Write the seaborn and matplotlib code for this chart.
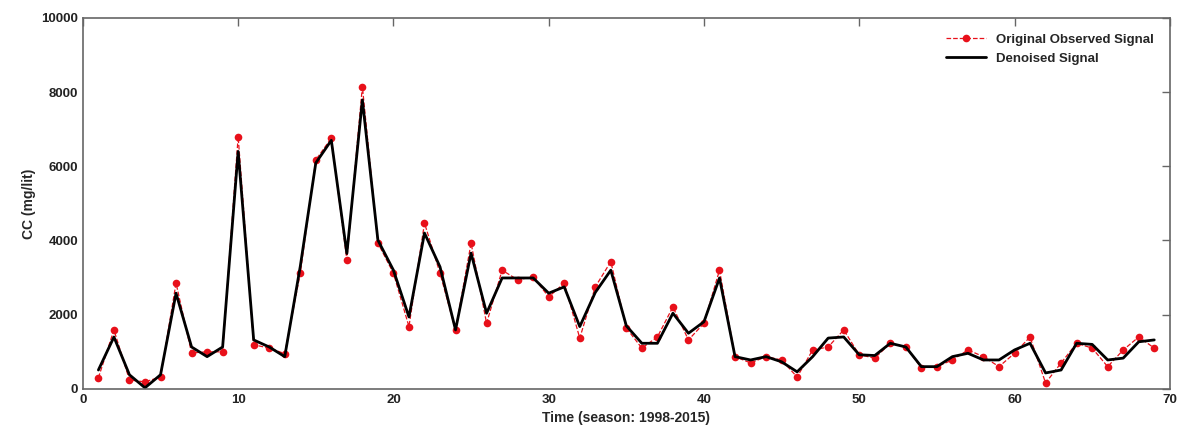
import numpy as np
import pandas as pd
import matplotlib
matplotlib.use("Agg")
import matplotlib.pyplot as plt
import seaborn as sns

# season index 1..69
season = list(range(1, 70))

observed = [300, 1590, 240, 190, 320, 2850, 970, 1000, 1000, 6800,
            1190, 1100, 950, 3120, 6170, 6760, 3480, 8150, 3930, 3120,
            1680, 4470, 3120, 1590, 3930, 1770, 3200, 2940, 3020, 2480,
            2850, 1370, 2750, 3430, 1640, 1100, 1400, 2210, 1320, 1770,
            3200, 870, 700, 870, 780, 320, 1050, 1130, 1590, 920,
            830, 1230, 1130, 570, 600, 780, 1050, 870, 600, 960,
            1400, 160, 700, 1230, 1100, 600, 1050, 1400, 1100]

denoised = [510, 1400, 380, 30, 380, 2580, 1130, 870, 1130, 6400,
            1320, 1130, 870, 3300, 6090, 6700, 3650, 7790, 4010, 3200,
            1940, 4200, 3290, 1590, 3660, 2040, 2990, 2990, 2990, 2580,
            2750, 1680, 2600, 3200, 1700, 1230, 1230, 2040, 1500, 1810,
            2990, 870, 780, 870, 730, 460, 870, 1370, 1400, 920,
            900, 1230, 1130, 600, 600, 870, 960, 780, 780, 1050,
            1230, 430, 510, 1230, 1200, 780, 830, 1270, 1320]

df = pd.DataFrame({"season": season, "observed": observed, "denoised": denoised})

sns.set_style("white")
plt.rcParams['font.family'] = ['Liberation Sans', 'DejaVu Sans']

fig = plt.figure(figsize=(11.84, 4.36), dpi=100)
ax = fig.add_axes([0.070, 0.108, 0.918, 0.851])

sns.lineplot(data=df, x="season", y="observed", ax=ax, color="#e8101a", linestyle="--",
             linewidth=0.9, marker="o", markersize=5.5, markeredgewidth=0,
             label="Original Observed Signal")
sns.lineplot(data=df, x="season", y="denoised", ax=ax, color="black",
             linewidth=2, label="Denoised Signal")

ax.set_xlim(0, 70)
ax.set_ylim(0, 10000)
ax.set_xticks(range(0, 71, 10))
ax.set_yticks(range(0, 10001, 2000))
ax.set_xlabel("Time (season: 1998-2015)", fontsize=10, fontweight="bold")
ax.set_ylabel("CC (mg/lit)", fontsize=10, fontweight="bold")

for s in ax.spines.values():
    s.set_color("#666666")
    s.set_linewidth(1.2)
ax.tick_params(direction="in", top=True, right=True, length=6, width=1,
               color="#666666", labelsize=9.5)
for t in ax.get_xticklabels() + ax.get_yticklabels():
    t.set_fontweight("bold")
    t.set_color("#222222")

leg = ax.legend(loc="upper right", frameon=False, fontsize=9.5,
                handlelength=3, borderaxespad=0.8)
for t in leg.get_texts():
    t.set_fontweight("bold")

fig.savefig("out.png", dpi=100)
